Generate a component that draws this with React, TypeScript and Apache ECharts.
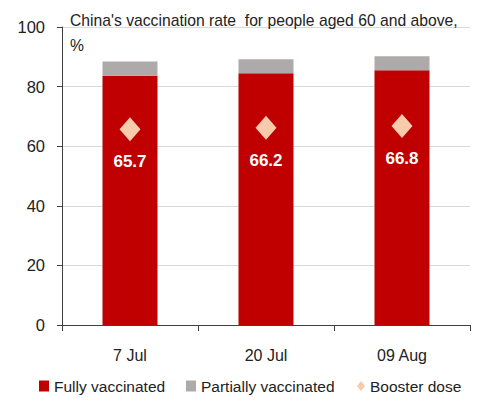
import React, { useEffect, useRef } from "react";
import * as echarts from "echarts";

const categories = ["7 Jul", "20 Jul", "09 Aug"];
const fullyVaccinated = [83.6, 84.5, 85.5];
const partiallyVaccinated = [4.8, 4.7, 4.7];
const boosterDose = [65.7, 66.2, 66.8];
const titleText = "China's vaccination rate  for people aged 60 and above,\n%";

const FONT = "'Liberation Sans', Arial, sans-serif";
const TXT = "#222222";

export default function App() {
  const ref = useRef<HTMLDivElement>(null);
  useEffect(() => {
    if (!ref.current) return;
    const chart = echarts.init(ref.current, undefined, { renderer: "svg" });
    const legendText = { fontFamily: FONT, fontSize: 15.5, color: TXT };
    chart.setOption({
      animation: false,
      backgroundColor: "#ffffff",
      textStyle: { fontFamily: FONT },
      title: {
        text: titleText,
        left: 70,
        top: 8,
        padding: 0,
        textStyle: { fontFamily: FONT, fontSize: 15.7, fontWeight: "normal", color: TXT, lineHeight: 25 },
      },
      grid: { left: 62, right: 7, top: 27, bottom: 78 },
      legend: [
        {
          data: [{ name: "Fully vaccinated", icon: "rect" }],
          left: 39, top: 378, padding: 0, itemWidth: 10, itemHeight: 11,
          textStyle: legendText,
        },
        {
          data: [{ name: "Partially vaccinated", icon: "rect" }],
          left: 186, top: 378, padding: 0, itemWidth: 10, itemHeight: 11,
          textStyle: legendText,
        },
        {
          data: [{ name: "Booster dose", icon: "diamond", itemStyle: { opacity: 1 } }],
          left: 357, top: 378, padding: 0, itemWidth: 8, itemHeight: 10,
          textStyle: legendText,
        },
      ],
      xAxis: {
        type: "category",
        data: categories,
        axisLine: { show: true, lineStyle: { color: "#404040", width: 1 } },
        axisTick: { show: true, length: 6, lineStyle: { color: "#404040" } },
        axisLabel: { fontFamily: FONT, fontSize: 16, color: TXT, margin: 22 },
      },
      yAxis: {
        type: "value",
        min: 0,
        max: 100,
        interval: 20,
        axisLine: { show: true, lineStyle: { color: "#404040", width: 1 } },
        axisTick: { show: true, inside: false, length: 5, lineStyle: { color: "#404040" } },
        axisLabel: { fontFamily: FONT, fontSize: 16.5, color: TXT, margin: 17 },
        splitLine: { show: true, lineStyle: { color: "#D9D9D9", width: 1 } },
      },
      series: [
        {
          name: "Fully vaccinated",
          type: "bar",
          stack: "total",
          data: fullyVaccinated,
          barWidth: 55,
          itemStyle: { color: "#C00000" },
        },
        {
          name: "Partially vaccinated",
          type: "bar",
          stack: "total",
          data: partiallyVaccinated,
          barWidth: 55,
          itemStyle: { color: "#AEAAAA" },
        },
        {
          name: "Booster dose",
          type: "scatter",
          data: boosterDose,
          symbol: "diamond",
          symbolSize: [21, 24],
          itemStyle: { color: "#F8CBAD", opacity: 1 },
          label: {
            show: true,
            position: "bottom",
            distance: 12,
            fontFamily: FONT,
            fontSize: 17,
            fontWeight: "bold",
            color: "#ffffff",
          },
          z: 5,
        },
      ],
    });
    return () => chart.dispose();
  }, []);
  return <div ref={ref} style={{ width: 477, height: 403, position: "absolute", left: 0, top: 0 }} />;
}
